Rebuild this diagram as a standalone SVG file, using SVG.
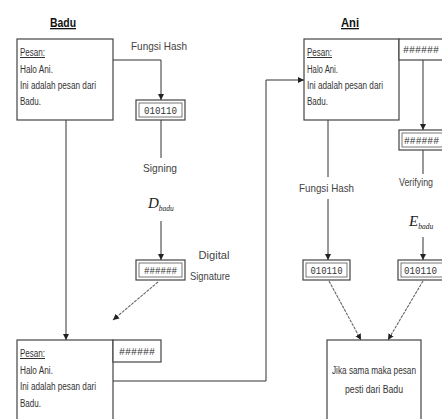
<svg xmlns="http://www.w3.org/2000/svg" width="442" height="419" viewBox="0 0 442 419">
<defs>
<marker id="ah" viewBox="0 0 10 10" refX="10" refY="5" markerWidth="6" markerHeight="8" orient="auto" markerUnits="userSpaceOnUse"><path d="M0,0 L10,5 L0,10 z" fill="#222"/></marker>
</defs>
<style>
.b{fill:#fff;stroke:#444;stroke-width:1.2}
.in{fill:none;stroke:#555;stroke-width:0.8}
.c{fill:none;stroke:#333;stroke-width:1}
.d{fill:none;stroke:#666;stroke-width:1.1;stroke-dasharray:3 1}
.t{font-family:"Liberation Sans",Arial,sans-serif;font-size:10px;fill:#333}
.l{font-family:"Liberation Sans",Arial,sans-serif;font-size:11.5px;fill:#444}
.h{font-family:"Liberation Sans",Arial,sans-serif;font-size:13px;font-weight:bold;fill:#111;text-decoration:underline}
.m{font-family:"Liberation Mono","Courier New",monospace;font-size:10px;fill:#333}
.s{font-family:"Liberation Serif","Times New Roman",serif;font-style:italic;fill:#222}
</style>
<rect width="442" height="419" fill="#fff"/>
<g id="connectors">
<polyline class="c" points="113,60 161,60 161,100" marker-end="url(#ah)"/>
<line class="c" x1="161" y1="120" x2="161" y2="158"/>
<line class="c" x1="161" y1="221" x2="161" y2="260" marker-end="url(#ah)"/>
<line class="d" x1="158" y1="282" x2="113" y2="320" marker-end="url(#ah)"/>
<line class="c" x1="66" y1="120" x2="66" y2="340" marker-end="url(#ah)"/>
<polyline class="c" points="113,381 266,381 266,80 304,80" marker-end="url(#ah)"/>
<line class="c" x1="423" y1="60" x2="423" y2="130" marker-end="url(#ah)"/>
<line class="c" x1="423" y1="150" x2="423" y2="174"/>
<line class="c" x1="423" y1="237" x2="423" y2="260" marker-end="url(#ah)"/>
<line class="c" x1="328" y1="120" x2="328" y2="177"/>
<line class="c" x1="328" y1="199" x2="328" y2="260" marker-end="url(#ah)"/>
<line class="d" x1="329" y1="281" x2="361" y2="340" marker-end="url(#ah)"/>
<line class="d" x1="423" y1="281" x2="388" y2="340" marker-end="url(#ah)"/>
</g>
<g id="badu-title"><text class="h" x="63" y="27" text-anchor="middle" textLength="26" lengthAdjust="spacingAndGlyphs">Badu</text></g>
<g id="ani-title"><text class="h" x="350" y="27" text-anchor="middle" textLength="18" lengthAdjust="spacingAndGlyphs">Ani</text></g>
<g id="badu-msg">
<rect class="b" x="17" y="39" width="96" height="81"/>
<text class="t" x="20" y="56" text-decoration="underline" textLength="25" lengthAdjust="spacingAndGlyphs">Pesan:</text>
<text class="t" x="20" y="73" textLength="33" lengthAdjust="spacingAndGlyphs">Halo Ani.</text>
<text class="t" x="20" y="89" textLength="76" lengthAdjust="spacingAndGlyphs">Ini adalah pesan dari</text>
<text class="t" x="20" y="105" textLength="21" lengthAdjust="spacingAndGlyphs">Badu.</text>
</g>
<g id="label-hash1"><text class="l" x="131" y="50" textLength="56" lengthAdjust="spacingAndGlyphs">Fungsi Hash</text></g>
<g id="hash1">
<rect class="b" x="136" y="100" width="49" height="20"/>
<rect class="in" x="139" y="103" width="43" height="14"/>
<text class="m" x="160.5" y="114" text-anchor="middle" textLength="33" lengthAdjust="spacingAndGlyphs">010110</text>
</g>
<g id="label-signing"><text class="l" x="160" y="172" text-anchor="middle" textLength="34" lengthAdjust="spacingAndGlyphs">Signing</text></g>
<g id="label-dbadu"><text class="s" x="148" y="208" font-size="15">D<tspan font-size="7.5" dy="3">badu</tspan></text></g>
<g id="signature">
<rect class="b" x="136" y="260" width="49" height="20"/>
<rect class="in" x="139" y="263" width="43" height="14"/>
<text class="m" x="160.5" y="274" text-anchor="middle" textLength="33" lengthAdjust="spacingAndGlyphs">######</text>
</g>
<g id="label-digsig">
<text class="l" x="214" y="259" text-anchor="middle" textLength="31" lengthAdjust="spacingAndGlyphs">Digital</text>
<text class="l" x="210" y="280" text-anchor="middle" textLength="40" lengthAdjust="spacingAndGlyphs">Signature</text>
</g>
<g id="badu-sent">
<rect class="b" x="17" y="340" width="96" height="90"/>
<rect class="b" x="113" y="340" width="48" height="22"/>
<text class="m" x="137" y="355" text-anchor="middle" textLength="36" lengthAdjust="spacingAndGlyphs">######</text>
<text class="t" x="20" y="357" text-decoration="underline" textLength="25" lengthAdjust="spacingAndGlyphs">Pesan:</text>
<text class="t" x="20" y="374" textLength="33" lengthAdjust="spacingAndGlyphs">Halo Ani.</text>
<text class="t" x="20" y="390" textLength="76" lengthAdjust="spacingAndGlyphs">Ini adalah pesan dari</text>
<text class="t" x="20" y="407" textLength="21" lengthAdjust="spacingAndGlyphs">Badu.</text>
</g>
<g id="ani-msg">
<rect class="b" x="304" y="39" width="95" height="81"/>
<rect class="b" x="399" y="39" width="50" height="21"/>
<text class="m" x="403" y="53" textLength="36" lengthAdjust="spacingAndGlyphs">######</text>
<text class="t" x="307" y="56" text-decoration="underline" textLength="25" lengthAdjust="spacingAndGlyphs">Pesan:</text>
<text class="t" x="307" y="73" textLength="31" lengthAdjust="spacingAndGlyphs">Halo Ani.</text>
<text class="t" x="307" y="89" textLength="76" lengthAdjust="spacingAndGlyphs">Ini adalah pesan dari</text>
<text class="t" x="307" y="105" textLength="21" lengthAdjust="spacingAndGlyphs">Badu.</text>
</g>
<g id="ani-sig">
<rect class="b" x="399" y="130" width="50" height="20"/>
<rect class="in" x="402" y="133" width="50" height="14"/>
<text class="m" x="404" y="144" textLength="35" lengthAdjust="spacingAndGlyphs">######</text>
</g>
<g id="label-verifying"><text class="l" x="399" y="186" textLength="34" lengthAdjust="spacingAndGlyphs">Verifying</text></g>
<g id="label-ebadu"><text class="s" x="409" y="226" font-size="15">E<tspan font-size="7.5" dy="3">badu</tspan></text></g>
<g id="label-hash2"><text class="l" x="299" y="192" textLength="55" lengthAdjust="spacingAndGlyphs">Fungsi Hash</text></g>
<g id="hash2">
<rect class="b" x="303" y="260" width="47" height="20"/>
<rect class="in" x="306" y="263" width="41" height="14"/>
<text class="m" x="326.5" y="274" text-anchor="middle" textLength="32" lengthAdjust="spacingAndGlyphs">010110</text>
</g>
<g id="hash3">
<rect class="b" x="398" y="260" width="50" height="20"/>
<rect class="in" x="401" y="263" width="50" height="14"/>
<text class="m" x="404" y="274" textLength="33" lengthAdjust="spacingAndGlyphs">010110</text>
</g>
<g id="result">
<rect class="b" x="327" y="340" width="94" height="90"/>
<text class="t" x="374" y="374" text-anchor="middle" textLength="84" lengthAdjust="spacingAndGlyphs">Jika sama maka pesan</text>
<text class="t" x="374" y="393" text-anchor="middle" textLength="58" lengthAdjust="spacingAndGlyphs">pesti dari Badu</text>
</g>
</svg>
